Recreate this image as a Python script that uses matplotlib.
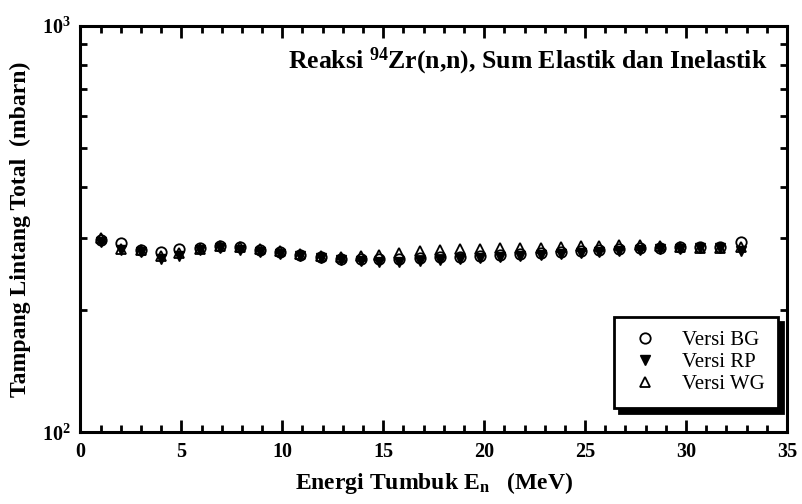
import matplotlib
matplotlib.use("Agg")
import matplotlib.pyplot as plt
from matplotlib.ticker import MultipleLocator, LogLocator, FixedLocator, NullFormatter

plt.rcParams['font.family'] = ['Liberation Serif', 'DejaVu Serif']
plt.rcParams['mathtext.fontset'] = 'custom'
plt.rcParams['mathtext.rm'] = 'Liberation Serif:bold'
plt.rcParams['mathtext.bf'] = 'Liberation Serif:bold'
plt.rcParams['mathtext.it'] = 'Liberation Serif:bold'

energy = [1.0, 2.0, 3.0, 4.0, 4.9, 5.9, 6.9, 7.9, 8.9, 9.9, 10.9, 11.9, 12.9, 13.9,
          14.8, 15.8, 16.8, 17.8, 18.8, 19.8, 20.8, 21.8, 22.8, 23.8, 24.8, 25.7,
          26.7, 27.7, 28.7, 29.7, 30.7, 31.7, 32.7]
bg = [297, 292, 281, 278, 282, 284, 287, 285, 281, 278, 273, 270, 267, 267, 267, 267,
      268, 270, 270, 271, 273, 274, 276, 278, 279, 281, 282, 284, 284, 286, 286, 286, 294]
rp = [294, 281, 278, 267, 271, 281, 284, 281, 278, 274, 271, 268, 265, 264, 262, 262,
      264, 265, 267, 268, 270, 271, 273, 274, 276, 278, 279, 281, 282, 282, 284, 284, 279]
wg = [300, 282, 281, 271, 276, 282, 287, 286, 282, 279, 274, 271, 270, 271, 273, 276,
      279, 281, 282, 282, 284, 284, 284, 286, 287, 287, 289, 289, 287, 286, 284, 284, 286]

fig = plt.figure(figsize=(8.03, 5.04), dpi=100)
ax = fig.add_axes([0.1002, 0.1423, 0.8798, 0.8067])

ms = 7.5
ax.plot(energy, bg, linestyle='none', marker='o', ms=ms, mfc='none', mec='black', mew=1.3, label='Versi BG')
ax.plot(energy, rp, linestyle='none', marker='v', ms=ms, mfc='black', mec='black', mew=1.0, label='Versi RP')
ax.plot(energy, wg, linestyle='none', marker='^', ms=ms, mfc='none', mec='black', mew=1.3, label='Versi WG')

ax.set_xlim(0, 35)
ax.set_yscale('log')
ax.set_ylim(100, 1000)

ax.xaxis.set_major_locator(MultipleLocator(5))
ax.xaxis.set_minor_locator(MultipleLocator(1))
ax.yaxis.set_major_locator(FixedLocator([100, 1000]))
ax.yaxis.set_minor_locator(LogLocator(base=10, subs=range(2, 10)))
ax.yaxis.set_minor_formatter(NullFormatter())
ax.set_yticklabels(['$10^2$', '$10^3$'])

ax.tick_params(which='both', direction='in', top=True, right=True, width=2.0,
               labelsize=14.5, pad=7)
ax.tick_params(which='major', length=8.6)
ax.tick_params(which='minor', length=4.7)
for lab in ax.get_xticklabels():
    lab.set_fontweight('bold')

for sp in ax.spines.values():
    sp.set_linewidth(2.2)

ax.set_xlabel('Energi Tumbuk E$_{n}$   (MeV)', fontsize=17, fontweight='bold', labelpad=6)
ax.set_ylabel('Tampang Lintang Total  (mbarn)', fontsize=17, fontweight='bold', labelpad=8)

ax.text(0.972, 0.912, 'Reaksi $^{94}$Zr(n,n), Sum Elastik dan Inelastik',
        transform=ax.transAxes, ha='right', va='center', fontsize=18.5, fontweight='bold')

leg = ax.legend(loc='lower right', bbox_to_anchor=(0.988, 0.06), fancybox=False,
                shadow={'color': 'black', 'alpha': 1.0, 'ox': 3.5, 'oy': -3.5},
                edgecolor='black', framealpha=1.0, fontsize=15,
                handletextpad=1.0, borderpad=0.65, labelspacing=0.12, handlelength=1.6,
                borderaxespad=0.0)
leg.get_frame().set_linewidth(2.0)

fig.savefig('out.png', dpi=100)
